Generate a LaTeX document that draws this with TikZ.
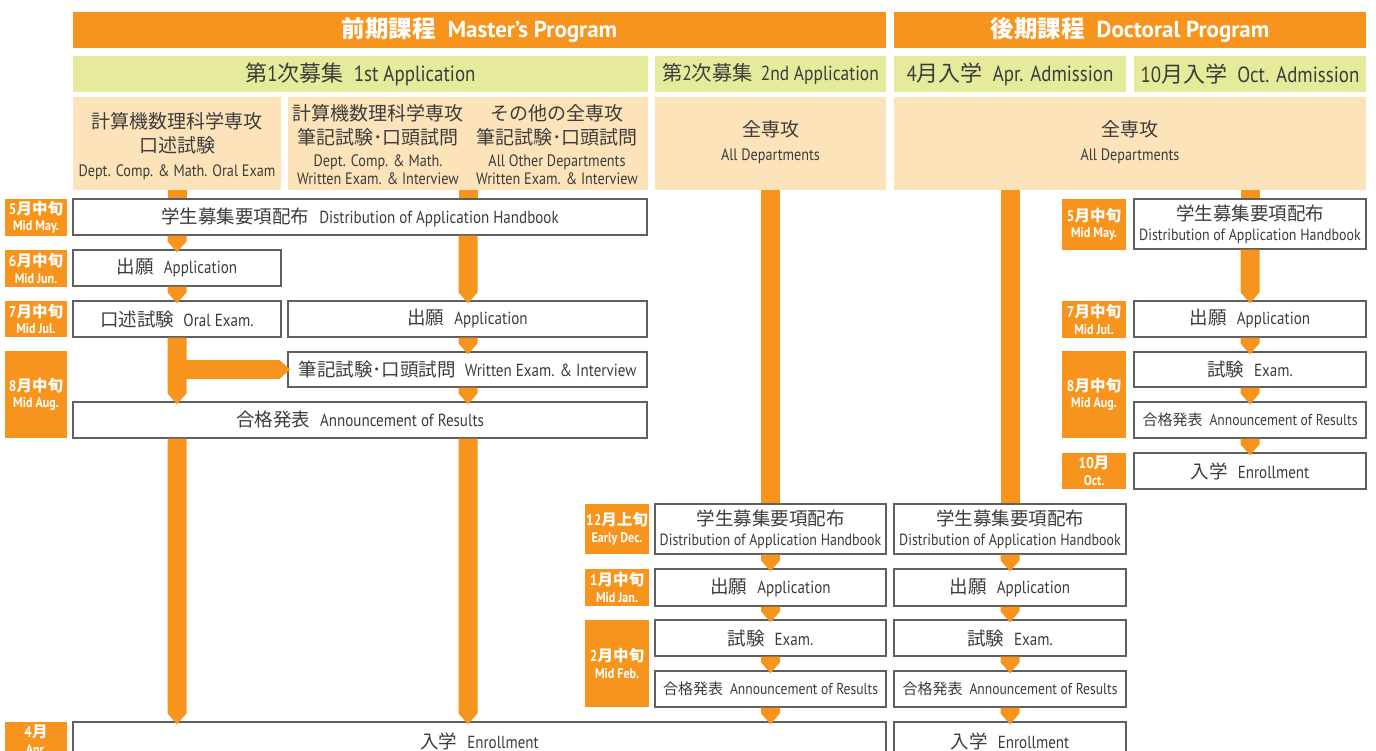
\documentclass[tikz,border=0pt]{standalone}
\usepackage{fontspec}
\setmainfont{PT Sans}[FakeStretch=0.86]
\newfontfamily\hfont{PT Sans}
\newfontfamily\jp{Noto Sans CJK JP}
\definecolor{orng}{RGB}{247,148,29}
\definecolor{grn}{RGB}{230,235,155}
\definecolor{peach}{RGB}{253,227,186}
\definecolor{txt}{RGB}{60,60,60}
\definecolor{bord}{RGB}{95,95,95}
\newcommand\J[1]{{\jp #1}}
\newcommand\JB[1]{{\jp\bfseries #1}}
\newcommand\JS[1]{{\jp\fontsize{18.5}{20}\selectfont #1}}
\newcommand\JP[1]{{\jp\fontsize{15}{20}\selectfont #1}}
\newcommand\LS[1]{{\fontsize{16.2}{20}\selectfont #1}}
\newcommand\LA[1]{{\fontsize{15.8}{20}\selectfont #1}}
\newcommand\bx[7]{\node[#1, minimum width={(#5-#3)*1pt}, minimum height={(#6-#4)*1pt}] (#2) at ({(#3+#5)/2},{(#4+#6)/2}) {#7};}
\newcommand\tl[2]{#1\\{\fontsize{14}{16}\selectfont #2}}
\newcommand\vbar[3]{\path (#2 -| #1) coordinate (vbS) (#3 -| #1) coordinate (vbE);
  \fill[orng] ([shift={(-9.5,0)}]vbS) -- ([shift={(9.5,0)}]vbS) -- ([shift={(9.5,-8)}]vbE) -- ([shift={(0,3)}]vbE) -- ([shift={(-9.5,-8)}]vbE) -- cycle;}
\newcommand\pbar[3]{\path (#2 -| #1) coordinate (vbS) (#3 -| #1) coordinate (vbE);
  \fill[orng] ([shift={(-9.5,0)}]vbS) rectangle ([shift={(9.5,0)}]vbE);}
\tikzset{
  hdr/.style={fill=orng, text=white, inner sep=0pt, font=\hfont\bfseries\fontsize{23}{26}\selectfont},
  grnbox/.style={fill=grn, text=txt, inner sep=0pt, font=\fontsize{22}{24}\selectfont},
  pchbox/.style={fill=peach, inner sep=0pt},
  pchtext/.style={text=txt, inner sep=0pt, align=center, font=\fontsize{19}{24}\selectfont},
  wbox/.style={draw=bord, line width=1.3pt, fill=white, text=txt, inner sep=0pt, align=center, font=\fontsize{17.5}{20}\selectfont},
  tlab/.style={fill=orng, text=white, inner sep=0pt, align=center, font=\bfseries\fontsize{15.5}{16.5}\selectfont},
}
\begin{document}
\begin{tikzpicture}[x=1pt,y=-1pt]
\useasboundingbox (0,0) rectangle (1376,751);
\fill[white] (0,0) rectangle (1376,751);
\clip (0,0) rectangle (1376,751);
% headers
\bx{hdr}{hM}{73}{12}{886}{48}{\JB{\fontsize{23.5}{26}\selectfont 前期課程}\hspace{12pt}Master’s Program}
\bx{hdr}{hD}{894}{12}{1366}{48}{\JB{\fontsize{23.5}{26}\selectfont 後期課程}\hspace{12pt}Doctoral Program}
% green row
\bx{grnbox}{g1}{73}{56}{648}{92}{\J{第}1\J{次募集}\hspace{10pt}1st Application}
\bx{grnbox}{g2}{655}{56}{886}{92}{\fontsize{20.3}{24}\selectfont\J{第}2\J{次募集}\hspace{8pt}2nd Application}
\bx{grnbox}{g3}{894}{56}{1126}{92}{4\J{月入学}\hspace{10pt}Apr. Admission}
\bx{grnbox}{g4}{1134}{56}{1366}{92}{10\J{月入学}\hspace{10pt}Oct. Admission}
% peach row
\bx{pchbox}{p1}{73}{97}{281}{190}{}
\bx{pchbox}{p2}{288}{97}{648}{190}{}
\bx{pchbox}{p3}{655}{97}{886}{190}{}
\bx{pchbox}{p4}{894}{97}{1366}{190}{}
\node[pchtext] (p1t) at (177,146) {\J{計算機数理科学専攻}\\\J{口述試験}\\{\fontsize{16.5}{24}\selectfont Dept. Comp. \& Math. Oral Exam}};
\node[pchtext] (p2a) at (378,145) {\J{計算機数理科学専攻}\\\J{筆記試験･口頭試問}\\[-2pt]{\fontsize{16.5}{24}\selectfont Dept. Comp. \& Math.}\\[-6pt]{\fontsize{16.5}{24}\selectfont Written Exam. \& Interview}};
\node[pchtext] (p2b) at (557,145) {\J{その他の全専攻}\\\J{筆記試験･口頭試問}\\[-2pt]{\fontsize{16.5}{24}\selectfont All Other Departments}\\[-6pt]{\fontsize{16.5}{24}\selectfont Written Exam. \& Interview}};
\node[pchtext] (p3t) at (770.5,142) {\J{全専攻}\\{\fontsize{16.5}{24}\selectfont All Departments}};
\node[pchtext] (p4t) at (1130,142) {\J{全専攻}\\{\fontsize{16.5}{24}\selectfont All Departments}};
% time labels
\bx{tlab}{t1}{5}{199}{67}{236}{\tl{5\JB{月中旬}}{Mid May.}}
\bx{tlab}{t2}{5}{250}{67}{287}{\tl{6\JB{月中旬}}{Mid Jun.}}
\bx{tlab}{t3}{5}{301}{67}{337}{\tl{7\JB{月中旬}}{Mid Jul.}}
\bx{tlab}{t4}{5}{351}{67}{438}{\tl{8\JB{月中旬}}{Mid Aug.}}
\bx{tlab}{t5}{5}{722}{67}{760}{\tl{4\JB{月}}{Apr.}}
\bx{tlab}{t6}{585}{504}{649}{554}{\tl{12\JB{月上旬}}{Early Dec.}}
\bx{tlab}{t7}{585}{569}{649}{606}{\tl{1\JB{月中旬}}{Mid Jan.}}
\bx{tlab}{t8}{585}{620}{649}{707}{\tl{2\JB{月中旬}}{Mid Feb.}}
\bx{tlab}{t9}{1062}{199}{1126}{250}{\tl{5\JB{月中旬}}{Mid May.}}
\bx{tlab}{t10}{1062}{301}{1126}{338}{\tl{7\JB{月中旬}}{Mid Jul.}}
\bx{tlab}{t11}{1062}{351}{1126}{438}{\tl{8\JB{月中旬}}{Mid Aug.}}
\bx{tlab}{t12}{1062}{453}{1126}{489}{\tl{10\JB{月}}{Oct.}}
% white boxes - master's 1st
\bx{wbox}{b1}{73}{199}{647}{235}{\JS{学生募集要項配布}\hspace{10pt}Distribution of Application Handbook}
\bx{wbox}{b2}{73}{250}{281}{286}{\JS{出願}\hspace{10pt}Application}
\bx{wbox}{b3}{73}{301}{281}{337}{\JS{口述試験}\hspace{9pt}Oral Exam.}
\bx{wbox}{b4}{288}{301}{647}{337}{\JS{出願}\hspace{10pt}Application}
\bx{wbox}{b5}{288}{352}{647}{387}{\JS{筆記試験･口頭試問}\hspace{9pt}Written Exam. \& Interview}
\bx{wbox}{b6}{73}{402}{647}{438}{\JS{合格発表}\hspace{10pt}Announcement of Results}
\bx{wbox}{b7}{73}{722}{886}{760}{\JS{入学}\hspace{10pt}Enrollment}
% 2nd application
\bx{wbox}{c1}{655}{504}{886}{554}{\JS{学生募集要項配布}\\\LS{Distribution of Application Handbook}}
\bx{wbox}{c2}{655}{569}{886}{606}{\JS{出願}\hspace{10pt}Application}
\bx{wbox}{c3}{655}{620}{886}{656}{\JS{試験}\hspace{10pt}Exam.}
\bx{wbox}{c4}{655}{671}{886}{707}{\JP{合格発表}\hspace{7pt}\LA{Announcement of Results}}
% doctoral april
\bx{wbox}{d1}{894}{504}{1126}{554}{\JS{学生募集要項配布}\\\LS{Distribution of Application Handbook}}
\bx{wbox}{d2}{894}{569}{1126}{606}{\JS{出願}\hspace{10pt}Application}
\bx{wbox}{d3}{894}{620}{1126}{656}{\JS{試験}\hspace{10pt}Exam.}
\bx{wbox}{d4}{894}{671}{1126}{707}{\JP{合格発表}\hspace{7pt}\LA{Announcement of Results}}
\bx{wbox}{d5}{894}{722}{1126}{760}{\JS{入学}\hspace{10pt}Enrollment}
% doctoral october
\bx{wbox}{e1}{1134}{199}{1366}{249}{\JS{学生募集要項配布}\\\LS{Distribution of Application Handbook}}
\bx{wbox}{e2}{1134}{301}{1366}{337}{\JS{出願}\hspace{10pt}Application}
\bx{wbox}{e3}{1134}{352}{1366}{387}{\JS{試験}\hspace{10pt}Exam.}
\bx{wbox}{e4}{1134}{402}{1366}{438}{\JP{合格発表}\hspace{7pt}\LA{Announcement of Results}}
\bx{wbox}{e5}{1134}{453}{1366}{489}{\JS{入学}\hspace{10pt}Enrollment}
% bars: column p1
\pbar{p1.center}{p1.south}{b1.north}
\vbar{p1.center}{b1.south}{b2.north}
\vbar{p1.center}{b2.south}{b3.north}
\vbar{p1.center}{b3.south}{b6.north}
\vbar{p1.center}{b6.south}{b7.north}
\path (b5.west -| p1.center) coordinate (brS) (b5.west) coordinate (brE);
\fill[orng] ([shift={(0,-9.5)}]brS) -- ([shift={(-8,-9.5)}]brE) -- ([shift={(3,0)}]brE) -- ([shift={(-8,9.5)}]brE) -- ([shift={(0,9.5)}]brS) -- cycle;
% column p2
\pbar{p2.center}{p2.south}{b1.north}
\vbar{p2.center}{b1.south}{b4.north}
\vbar{p2.center}{b4.south}{b5.north}
\vbar{p2.center}{b5.south}{b6.north}
\vbar{p2.center}{b6.south}{b7.north}
% column p3
\pbar{p3.center}{p3.south}{c1.north}
\vbar{p3.center}{c1.south}{c2.north}
\vbar{p3.center}{c2.south}{c3.north}
\vbar{p3.center}{c3.south}{c4.north}
\vbar{p3.center}{c4.south}{b7.north}
% column g3 (april)
\pbar{g3.center}{p4.south}{d1.north}
\vbar{g3.center}{d1.south}{d2.north}
\vbar{g3.center}{d2.south}{d3.north}
\vbar{g3.center}{d3.south}{d4.north}
\vbar{g3.center}{d4.south}{d5.north}
% column g4 (october)
\pbar{g4.center}{p4.south}{e1.north}
\vbar{g4.center}{e1.south}{e2.north}
\vbar{g4.center}{e2.south}{e3.north}
\vbar{g4.center}{e3.south}{e4.north}
\vbar{g4.center}{e4.south}{e5.north}
\end{tikzpicture}
\end{document}
